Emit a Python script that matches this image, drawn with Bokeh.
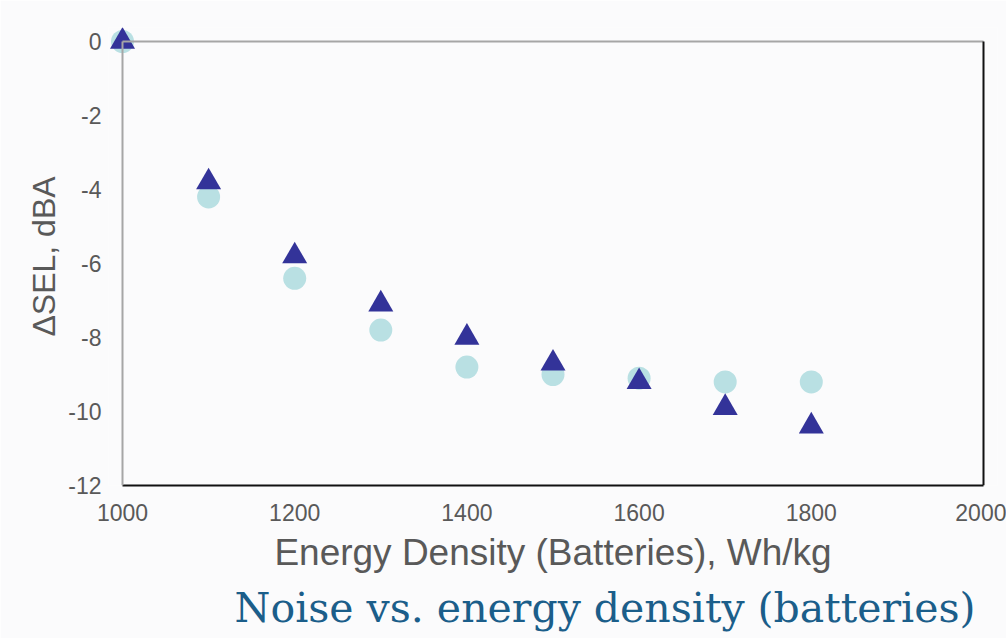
from bokeh.plotting import figure
from bokeh.models import LinearAxis, Title, Range1d, FixedTicker
from bokeh.embed import file_html
from bokeh.resources import INLINE

# Data
energy_density = [1000, 1100, 1200, 1300, 1400, 1500, 1600, 1700, 1800]
sel_circle = [0.0, -4.2, -6.4, -7.8, -8.8, -9.0, -9.1, -9.2, -9.2]
sel_triangle = [0.0, -3.8, -5.8, -7.1, -8.0, -8.7, -9.2, -9.9, -10.4]
x_ticks = [1000, 1200, 1400, 1600, 1800, 2000]
y_ticks = [0, -2, -4, -6, -8, -10, -12]

X0, X1 = 1000, 2000
Y0, Y1 = -12, 0

# layout (pixels)
W, H = 1006, 638
axis_left_px, axis_right_px = 122, 983
axis_top_px, axis_bottom_px = 41, 485
pad = 14  # room so the points sitting on the axes are not clipped

x_scale = (axis_right_px - axis_left_px) / (X1 - X0)
y_scale = (axis_bottom_px - axis_top_px) / (Y1 - Y0)
x_start = X0 - pad / x_scale
x_end = X1 + pad / x_scale
y_end = Y1 + pad / y_scale

p = figure(width=W, height=H, output_backend="svg", toolbar_location=None,
           x_range=Range1d(x_start, x_end), y_range=Range1d(Y0, y_end),
           min_border_left=axis_left_px - pad, min_border_right=W - axis_right_px - pad,
           min_border_top=axis_top_px - pad, min_border_bottom=H - axis_bottom_px,
           x_axis_label="Energy Density (Batteries), Wh/kg", y_axis_label="ΔSEL, dBA")

p.background_fill_color = "#FBFBFC"
p.border_fill_color = "#FBFBFC"
p.outline_line_color = None
p.grid.visible = False

tick_color = "#595959"
for ax in (p.xaxis[0], p.yaxis[0]):
    ax.major_tick_line_color = None
    ax.minor_tick_line_color = None
    ax.major_label_text_font = "Liberation Sans"
    ax.major_label_text_font_size = "23px"
    ax.major_label_text_color = tick_color
    ax.axis_label_text_font = "Liberation Sans"
    ax.axis_label_text_font_style = "normal"
    ax.axis_label_text_color = tick_color

xa = p.xaxis[0]
ya = p.yaxis[0]
xa.ticker = FixedTicker(ticks=x_ticks)
ya.ticker = FixedTicker(ticks=y_ticks)
xa.major_label_overrides = {t: str(t) for t in x_ticks}
ya.major_label_overrides = {t: str(t) for t in y_ticks}
xa.bounds = (X0, X1)
xa.axis_line_color = "#111111"
xa.axis_line_width = 2
ya.axis_line_color = None
ya.major_label_standoff = 1
ya.axis_label_standoff = 3
ya.axis_label_text_font_size = "32px"
xa.major_label_standoff = 12
xa.axis_label_standoff = 8
xa.axis_label_text_font_size = "37px"

# Frame lines: left (gray), top (gray), right (black)
def border_axis(color, loc, bounds):
    return LinearAxis(ticker=FixedTicker(ticks=[]), major_tick_line_color=None,
                      minor_tick_line_color=None, axis_line_color=color, axis_line_width=2,
                      major_label_standoff=0, fixed_location=loc, bounds=bounds)

p.add_layout(border_axis("#A6A6A6", X0, (Y0, Y1)), "left")
p.add_layout(border_axis("#A6A6A6", Y1, (X0, X1)), "above")
p.add_layout(border_axis("#111111", X1, (Y0, Y1)), "right")

p.scatter(energy_density, sel_circle, marker="circle", size=23,
          fill_color="#B9E0E3", line_color=None)
p.scatter(energy_density, sel_triangle, marker="triangle", size=25,
          fill_color="#333399", line_color=None)

title = Title(text="Noise vs. energy density (batteries)", align="right",
              text_font="DejaVu Serif", text_font_size="41px", text_font_style="normal",
              text_color="#1B5E8A", offset=22, standoff=13)
p.add_layout(title, "below")

open("out.html", "w").write(file_html(p, INLINE))
